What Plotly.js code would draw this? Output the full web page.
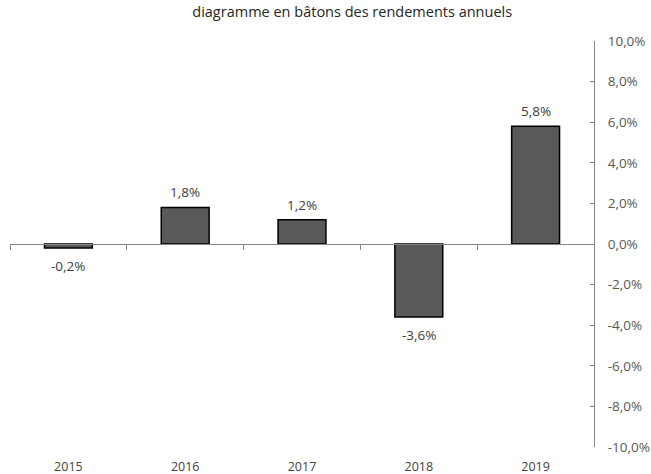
<!DOCTYPE html>
<html>
<head>
<meta charset="utf-8">
<script src="https://cdn.plot.ly/plotly-3.0.1.min.js"></script>
<style>html,body{margin:0;padding:0;background:#fff}#chart{width:651px;height:474px}</style>
</head>
<body>
<div id="chart"></div>
<script>
var years = ['2015', '2016', '2017', '2018', '2019'];
var returns = [-0.2, 1.8, 1.2, -3.6, 5.8];
var yTickVals = [-10, -8, -6, -4, -2, 0, 2, 4, 6, 8, 10];
var yTickText = ['-10,0%', '-8,0%', '-6,0%', '-4,0%', '-2,0%', '0,0%', '2,0%', '4,0%', '6,0%', '8,0%', '10,0%'];
var titleText = 'diagramme en bâtons des rendements annuels';

var font = 'Open Sans, Liberation Sans, sans-serif';
var txtColor = '#595959';

function fmt(v) { return v.toFixed(1).replace('.', ',') + '%'; }

var trace = {
  type: 'bar',
  x: years,
  y: returns,
  xaxis: 'x',
  yaxis: 'y',
  marker: {color: '#595959', line: {color: '#000000', width: 1.5}},
  hoverinfo: 'none'
};

var annotations = years.map(function(yr, i) {
  var v = returns[i];
  return {
    x: i, y: v, xref: 'x2', yref: 'y',
    text: fmt(v), showarrow: false,
    xanchor: 'center', yanchor: 'middle', yshift: v >= 0 ? 15 : -18,
    font: {family: font, size: 13.5, color: '#404040'}
  };
});

var layout = {
  width: 651, height: 474,
  margin: {l: 10, r: 57, t: 41, b: 27},
  paper_bgcolor: '#ffffff', plot_bgcolor: '#ffffff',
  showlegend: false,
  bargap: 0.59,
  title: {text: titleText, font: {family: font, size: 14.5, color: '#262626'}, x: 0.541, xanchor: 'center', y: 0.985, yanchor: 'top'},
  font: {family: font, size: 12, color: txtColor},
  annotations: annotations,
  xaxis: {
    type: 'category',
    categoryorder: 'array', categoryarray: years,
    range: [-0.5, 4.5],
    anchor: 'free', position: 0.5,
    showline: true, linecolor: '#868686', linewidth: 1,
    ticks: 'outside', ticklen: 5, tickcolor: '#868686', tickson: 'boundaries',
    showticklabels: false, showgrid: false, zeroline: false
  },
  xaxis2: {
    type: 'category',
    categoryorder: 'array', categoryarray: years,
    overlaying: 'x',
    range: [-0.5, 4.5],
    anchor: 'y', side: 'bottom',
    showline: false, ticks: '', showgrid: false, zeroline: false,
    showticklabels: true,
    tickfont: {family: font, size: 12.5, color: '#404040'},
    ticklabelstandoff: 10
  },
  yaxis: {
    range: [-10, 10],
    side: 'right',
    tickvals: yTickVals, ticktext: yTickText,
    showline: true, linecolor: '#868686', linewidth: 1,
    ticks: 'inside', ticklen: 4, tickcolor: '#868686',
    showgrid: false, zeroline: false,
    tickfont: {family: font, size: 13.5, color: txtColor},
    ticklabelstandoff: 10
  }
};

var ghost = {
  type: 'scatter', x: years, y: returns, xaxis: 'x2', yaxis: 'y',
  mode: 'markers', marker: {opacity: 0}, hoverinfo: 'none', showlegend: false
};

Plotly.newPlot('chart', [trace, ghost], layout, {displayModeBar: false, staticPlot: true});
</script>
</body>
</html>
